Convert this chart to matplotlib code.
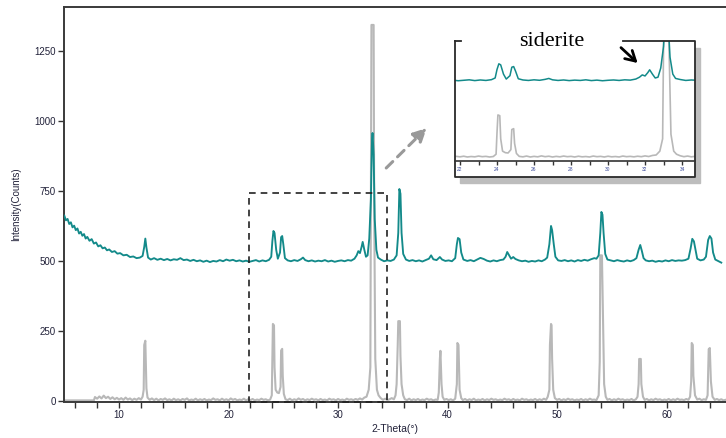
import numpy as np
import matplotlib
matplotlib.use("Agg")
import matplotlib.pyplot as plt
from matplotlib.patches import Rectangle
from matplotlib.ticker import MultipleLocator

# =========================================================
# DATA (2-theta in degrees, intensity in counts)
# =========================================================

# measured sample pattern (teal, offset to ~500 counts)
teal_2theta = [
    5.0, 5.15, 5.3, 5.45, 5.6, 5.75, 5.9, 6.05, 6.2, 6.35, 6.5, 6.65, 6.8, 6.95, 7.1, 7.3,
    7.5, 7.7, 7.9, 8.1, 8.3, 8.5, 8.7, 8.9, 9.1, 9.35, 9.6, 9.85, 10.1, 10.4, 10.7, 11.0,
    11.3, 11.6, 11.9, 12.15, 12.3, 12.4, 12.5, 12.65, 12.9, 13.2, 13.5, 13.8, 14.1, 14.4,
    14.7, 15.0, 15.3, 15.6, 15.9, 16.2, 16.5, 16.8, 17.1, 17.4, 17.7, 18.0, 18.3, 18.6,
    18.9, 19.2, 19.5, 19.8, 20.1, 20.4, 20.7, 21.0, 21.3, 21.6, 21.9, 22.2, 22.5, 22.8,
    23.1, 23.4, 23.7, 23.9, 24.0, 24.1, 24.2, 24.35, 24.5, 24.7, 24.8, 24.9, 25.0, 25.15,
    25.4, 25.7, 26.0, 26.3, 26.6, 26.8, 27.0, 27.3, 27.6, 27.9, 28.2, 28.5, 28.8, 29.1,
    29.4, 29.7, 30.0, 30.3, 30.6, 30.9, 31.2, 31.5, 31.7, 31.85, 32.0, 32.15, 32.25, 32.4,
    32.55, 32.7, 32.85, 33.0, 33.1, 33.15, 33.25, 33.35, 33.5, 33.65, 33.9, 34.2, 34.5,
    34.8, 35.1, 35.35, 35.5, 35.6, 35.7, 35.8, 35.95, 36.2, 36.5, 36.8, 37.1, 37.4, 37.7,
    38.0, 38.3, 38.5, 38.7, 39.0, 39.3, 39.5, 39.8, 40.1, 40.4, 40.7, 40.85, 40.95, 41.1,
    41.25, 41.45, 41.8, 42.1, 42.4, 42.7, 43.0, 43.3, 43.6, 43.9, 44.2, 44.5, 44.8, 45.1,
    45.3, 45.45, 45.6, 45.8, 46.0, 46.2, 46.5, 46.8, 47.1, 47.4, 47.7, 48.0, 48.3, 48.6,
    48.9, 49.1, 49.3, 49.45, 49.55, 49.7, 49.85, 50.1, 50.4, 50.7, 51.0, 51.3, 51.6, 51.9,
    52.2, 52.5, 52.8, 53.1, 53.4, 53.6, 53.8, 53.95, 54.05, 54.15, 54.25, 54.4, 54.6,
    54.9, 55.2, 55.5, 55.8, 56.1, 56.4, 56.7, 57.0, 57.25, 57.45, 57.6, 57.75, 57.9, 58.1,
    58.4, 58.7, 59.0, 59.3, 59.6, 59.9, 60.2, 60.5, 60.8, 61.1, 61.4, 61.7, 62.0, 62.2,
    62.35, 62.5, 62.65, 62.8, 63.1, 63.4, 63.6, 63.8, 63.95, 64.1, 64.25, 64.45, 64.7,
    65.0,
]
teal_counts = [
    662, 645, 650, 632, 638, 620, 626, 610, 616, 598, 604, 590, 596, 580, 586, 572,
    578, 562, 566, 552, 556, 545, 548, 538, 541, 532, 535, 526, 528, 520, 522, 514,
    516, 510, 512, 518, 550, 580, 548, 512, 505, 510, 504, 508, 503, 507,
    502, 506, 504, 510, 503, 505, 500, 504, 499, 502, 497, 501, 496, 500,
    498, 503, 499, 505, 501, 504, 499, 502, 498, 501, 497, 500, 503, 498,
    502, 499, 504, 515, 570, 607, 600, 540, 508, 530, 585, 589, 560, 510,
    502, 499, 503, 500, 506, 512, 503, 499, 502, 498, 501, 499, 503, 498,
    501, 497, 500, 502, 499, 503, 501, 508, 520, 535, 528, 550, 568, 540,
    515, 520, 580, 720, 930, 957, 880, 650, 540, 512, 505, 499, 502,
    500, 505, 520, 600, 757, 740, 600, 525, 505, 500, 503, 499, 502, 498,
    503, 508, 520, 506, 503, 514, 505, 500, 502, 499, 510, 560, 582, 578,
    530, 505, 500, 503, 499, 505, 511, 507, 501, 498, 502, 499, 503, 505,
    515, 532, 522, 508, 514, 507, 502, 499, 501, 497, 500, 498, 502, 499,
    505, 512, 560, 625, 610, 560, 515, 502, 500, 503, 499, 502, 498, 503,
    500, 504, 501, 506, 510, 508, 520, 600, 675, 665, 600, 525, 505,
    502, 499, 503, 500, 498, 502, 499, 503, 510, 540, 557, 535, 510, 502,
    499, 501, 497, 500, 498, 502, 499, 503, 500, 502, 501, 503, 508, 545,
    579, 570, 540, 508, 502, 505, 515, 575, 589, 580, 530, 505, 500,
    494,
]

# reference pattern (gray)
gray_2theta = [
    5.0, 7.7, 7.8, 8.0, 8.2, 8.4, 8.6, 8.8, 9.0, 9.2, 9.4, 9.6, 9.8, 10.0, 10.2, 10.4,
    10.6, 10.8, 11.0, 11.2, 11.4, 11.6, 11.8, 12.0, 12.15, 12.25, 12.3, 12.4, 12.5, 12.6,
    12.8, 13.0, 13.2, 13.4, 13.6, 13.8, 14.0, 14.2, 14.4, 14.6, 14.8, 15.0, 15.2, 15.4,
    15.6, 15.8, 16.0, 16.2, 16.4, 16.6, 16.8, 17.0, 17.2, 17.4, 17.6, 17.8, 18.0, 18.2,
    18.4, 18.6, 18.8, 19.0, 19.2, 19.4, 19.6, 19.8, 20.0, 20.2, 20.4, 20.6, 20.8, 21.0,
    21.2, 21.4, 21.6, 21.8, 22.0, 22.2, 22.4, 22.6, 22.8, 23.0, 23.2, 23.4, 23.6, 23.8,
    23.95, 24.0, 24.05, 24.15, 24.2, 24.3, 24.45, 24.6, 24.75, 24.8, 24.9, 24.95, 25.05,
    25.2, 25.4, 25.6, 25.8, 26.0, 26.2, 26.4, 26.6, 26.8, 27.0, 27.2, 27.4, 27.6, 27.8,
    28.0, 28.2, 28.4, 28.6, 28.8, 29.0, 29.2, 29.4, 29.6, 29.8, 30.0, 30.2, 30.4, 30.6,
    30.8, 31.0, 31.2, 31.4, 31.6, 31.8, 32.0, 32.2, 32.4, 32.6, 32.8, 32.95, 33.0, 33.05,
    33.25, 33.3, 33.4, 33.55, 33.7, 33.9, 34.1, 34.3, 34.5, 34.7, 34.9, 35.1, 35.25,
    35.35, 35.45, 35.5, 35.65, 35.7, 35.8, 35.95, 36.1, 36.3, 36.5, 36.7, 36.9, 37.1,
    37.3, 37.5, 37.7, 37.9, 38.1, 38.3, 38.5, 38.7, 38.9, 39.1, 39.2, 39.3, 39.35, 39.45,
    39.55, 39.7, 39.9, 40.1, 40.3, 40.5, 40.7, 40.85, 40.9, 41.0, 41.1, 41.25, 41.4, 41.6,
    41.8, 42.0, 42.2, 42.4, 42.6, 42.8, 43.0, 43.2, 43.4, 43.6, 43.8, 44.0, 44.2, 44.4,
    44.6, 44.8, 45.0, 45.2, 45.4, 45.6, 45.8, 46.0, 46.2, 46.4, 46.6, 46.8, 47.0, 47.2,
    47.4, 47.6, 47.8, 48.0, 48.2, 48.4, 48.6, 48.8, 49.0, 49.15, 49.3, 49.35, 49.45, 49.5,
    49.55, 49.65, 49.8, 50.0, 50.2, 50.4, 50.6, 50.8, 51.0, 51.2, 51.4, 51.6, 51.8, 52.0,
    52.2, 52.4, 52.6, 52.8, 53.0, 53.2, 53.4, 53.6, 53.8, 53.9, 53.95, 54.1, 54.2, 54.3,
    54.45, 54.6, 54.8, 55.0, 55.2, 55.4, 55.6, 55.8, 56.0, 56.2, 56.4, 56.6, 56.8, 57.0,
    57.2, 57.35, 57.45, 57.5, 57.65, 57.7, 57.85, 58.0, 58.2, 58.4, 58.6, 58.8, 59.0,
    59.2, 59.4, 59.6, 59.8, 60.0, 60.2, 60.4, 60.6, 60.8, 61.0, 61.2, 61.4, 61.6, 61.8,
    62.0, 62.15, 62.25, 62.3, 62.4, 62.45, 62.6, 62.8, 63.0, 63.2, 63.4, 63.6, 63.75,
    63.85, 63.95, 64.05, 64.2, 64.4, 64.6, 64.8, 65.0, 65.2, 65.5,
]
gray_counts = [
    2, 2, 14, 8, 16, 9, 19, 10, 15, 7, 13, 6, 11, 5, 10, 4,
    12, 5, 9, 3, 8, 4, 10, 5, 15, 40, 200, 215, 45, 12,
    4, 9, 3, 8, 2, 7, 4, 9, 3, 6, 2, 8, 3, 6,
    2, 7, 4, 9, 2, 5, 3, 8, 2, 6, 3, 7, 2, 5,
    3, 9, 4, 6, 2, 8, 3, 6, 2, 9, 4, 7, 2, 5,
    3, 8, 2, 6, 3, 7, 2, 5, 3, 8, 4, 6, 2, 5,
    20, 160, 275, 270, 120, 40, 30, 28, 50, 180, 186, 90, 25,
    6, 3, 8, 2, 6, 3, 9, 4, 7, 2, 6, 3, 8, 4,
    6, 2, 7, 3, 5, 2, 8, 4, 6, 2, 7, 3, 5, 2,
    8, 4, 6, 3, 7, 4, 9, 5, 12, 15, 40, 120, 700, 1343,
    1343, 700, 150, 40, 20, 10, 4, 8, 3, 6, 10, 6, 20,
    60, 200, 285, 285, 160, 60, 20, 6, 3, 8, 2, 6, 3,
    7, 2, 5, 3, 8, 4, 6, 2, 5, 4, 30, 150, 179, 60,
    15, 4, 7, 3, 6, 2, 8, 60, 207, 200, 40, 10, 3, 7,
    2, 6, 3, 8, 2, 5, 3, 7, 2, 6, 3, 8, 4, 6,
    2, 5, 3, 8, 4, 6, 2, 7, 3, 5, 2, 8, 4, 6,
    2, 5, 3, 7, 2, 6, 3, 8, 4, 15, 40, 200, 275, 270,
    150, 40, 10, 4, 7, 2, 6, 3, 8, 4, 6, 2, 5, 3,
    7, 2, 6, 3, 8, 4, 5, 3, 20, 140, 520, 520, 300, 60,
    15, 4, 7, 2, 6, 3, 8, 4, 6, 2, 5, 3, 7, 2,
    6, 15, 60, 150, 150, 60, 15, 4, 7, 2, 6, 3, 8,
    4, 6, 2, 5, 3, 7, 2, 6, 3, 8, 4, 5, 3, 7,
    4, 15, 70, 207, 200, 90, 20, 5, 8, 3, 6, 4, 20,
    185, 189, 70, 15, 4, 7, 3, 6, 2, 5,
]

TEAL = "#138a8a"
GRAY = "#b8b8b8"
TICK_COLOR = "#22223a"

# =========================================================
# FIGURE / MAIN AXES
# =========================================================

W, H = 726, 438
fig = plt.figure(figsize=(W / 100, H / 100), dpi=100)
plt.rcParams["font.family"] = ["Liberation Sans", "DejaVu Sans"]


def px_box(x0, y0, x1, y1):
    # pixel box (top-left origin) -> figure fraction [left, bottom, width, height]
    return [x0 / W, 1 - y1 / H, (x1 - x0) / W, (y1 - y0) / H]


ax = fig.add_axes(px_box(64.3, 7, 726, 401.5))
ax.plot(gray_2theta, gray_counts, color=GRAY, lw=1.5, zorder=2)
ax.plot(teal_2theta, teal_counts, color=TEAL, lw=1.35, zorder=3)

ax.set_xlim(5, 65.43)
ax.set_ylim(-2, 1407)
ax.xaxis.set_major_locator(MultipleLocator(10))
ax.xaxis.set_minor_locator(MultipleLocator(2))
ax.yaxis.set_major_locator(MultipleLocator(250))
ax.tick_params(axis="both", which="both", direction="out", length=4, width=1,
               colors="#333333", labelsize=7, labelcolor=TICK_COLOR, pad=2)
for side in ["left", "top", "bottom"]:
    ax.spines[side].set_linewidth(1.4)
    ax.spines[side].set_color("#3a3a3a")
ax.spines["right"].set_visible(False)

ax.set_xlabel("2-Theta(°)", fontsize=7.5, color=TICK_COLOR, labelpad=3)
ax.set_ylabel("Intensity(Counts)", fontsize=7, color=TICK_COLOR)
ax.yaxis.set_label_coords(-0.066, 0.5)

# zoomed region and pointer to the inset
ax.add_patch(Rectangle((21.87, -2), 34.47 - 21.87, 743 + 2, fill=False, ec="#222222",
                       lw=1.2, ls=(0, (4, 3)), zorder=4, clip_on=False))
ax.annotate("", xy=(38.1, 975), xytext=(34.4, 832),
            arrowprops=dict(arrowstyle="-|>", color="#999999", lw=2.2,
                            linestyle=(0, (3, 2.2)), mutation_scale=20,
                            shrinkA=0, shrinkB=0))

# =========================================================
# INSET (22-34.5 deg)
# =========================================================

fig.patches.append(Rectangle((460 / W, 1 - 183 / H), 240 / W, 135 / H,
                             transform=fig.transFigure, color="#bdbdbd", zorder=2))

ax_in = fig.add_axes(px_box(455, 40.7, 695, 176.7))
ax_in.set_zorder(3)
ax_in.set_facecolor("white")
ax_in.plot(gray_2theta, gray_counts, color=GRAY, lw=1.2)
ax_in.plot(teal_2theta, teal_counts, color=TEAL, lw=1.1)
ax_in.set_xlim(21.73, 34.70)
ax_in.set_ylim(-126, 757)
ax_in.set_yticks([])
ax_in.xaxis.set_major_locator(MultipleLocator(2))
ax_in.xaxis.set_minor_locator(MultipleLocator(1))
ax_in.tick_params(axis="x", which="both", direction="out", length=3, width=1,
                  colors="#333333", labelsize=3.5, labelcolor="#3a4a9a", pad=1)
for side in ["left", "right", "top"]:
    ax_in.spines[side].set_visible(False)
ax_in.spines["bottom"].set_position(("data", -24))
ax_in.spines["bottom"].set_linewidth(1.2)
ax_in.spines["bottom"].set_color("#333333")

# frame with a gap in the top edge for the label
frame = dict(color="#2a2a2a", lw=1.3, transform=ax_in.transAxes, clip_on=False)
ax_in.plot([0, 0, 1, 1, 168 / 240], [1, 0, 0, 1, 1], **frame)
ax_in.plot([0, 6 / 240], [1, 1], **frame)

fig.text(552 / W, 1 - 41 / H, "siderite", ha="center", va="center", fontsize=16,
         family="Liberation Serif", color="black", zorder=5)
ax_in.annotate("", xy=(31.6, 612), xytext=(30.7, 712),
               arrowprops=dict(arrowstyle="->,head_length=0.7,head_width=0.4",
                               color="black", lw=2.0, shrinkA=0, shrinkB=0))

fig.savefig("out.png", dpi=100)
